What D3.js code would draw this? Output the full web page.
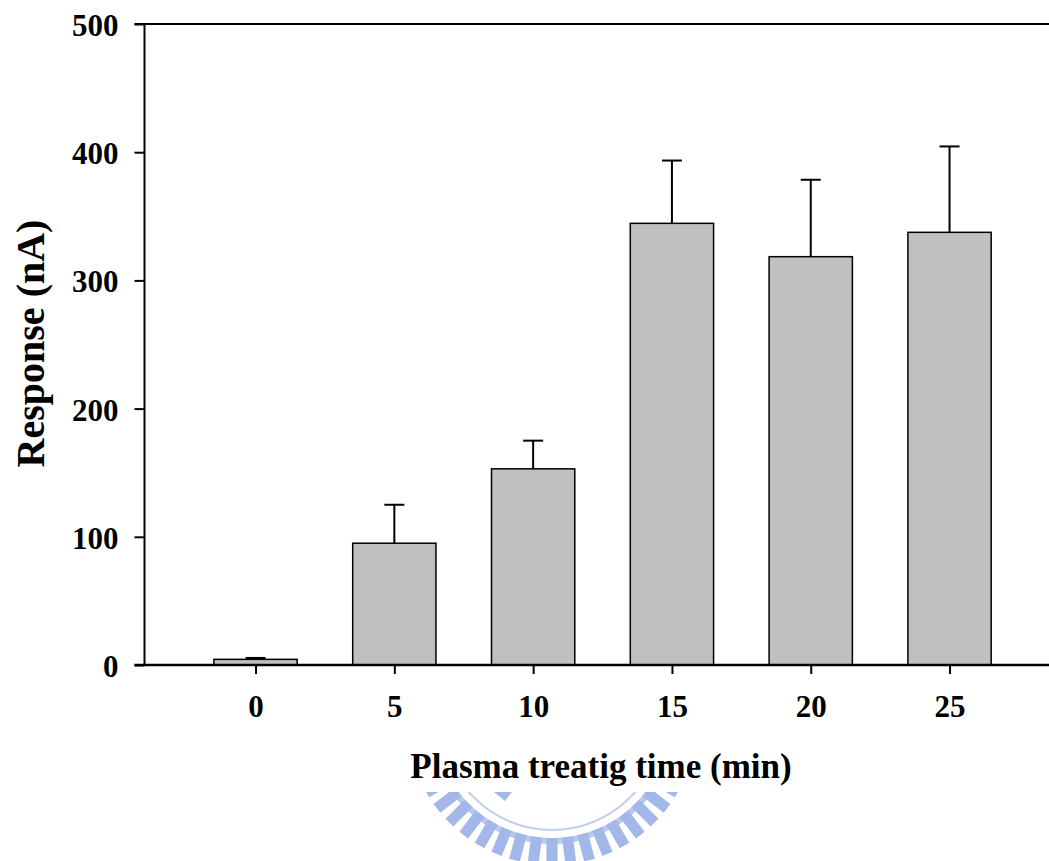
<!DOCTYPE html>
<html>
<head>
<meta charset="utf-8">
<script src="https://cdn.jsdelivr.net/npm/d3@7"></script>
<style>
  html, body { margin: 0; padding: 0; background: #fff; }
  svg { display: block; }
  text { font-family: "Liberation Serif", "Times New Roman", serif; font-weight: bold; fill: #000; }
</style>
</head>
<body>
<svg id="chart" width="1049" height="861"></svg>
<script>
// ---- data ----
const times = [0, 5, 10, 15, 20, 25];
const means = [4.4, 95, 153, 344.5, 318.5, 337.5];
const errors = [1.1, 30, 22, 49, 60, 67];
const yTicks = [0, 100, 200, 300, 400, 500];
const xLabel = "Plasma treatig time (min)";
const yLabel = "Response (nA)";

const svg = d3.select("#chart");
const W = 1049, H = 861;

// ---- watermark (decorative) ----
svg.append("clipPath").attr("id", "wmclip")
  .append("rect").attr("x", 0).attr("y", 792).attr("width", W).attr("height", H - 792);
const wmG = svg.append("g").attr("clip-path", "url(#wmclip)").attr("opacity", 0.8);
const cx = 552, cy = 720;
const wmColor = "#8ea6e4";
wmG.append("circle").attr("cx", cx).attr("cy", cy).attr("r", 110)
  .attr("fill", "none").attr("stroke", "#b4c3ec").attr("stroke-width", 2);
wmG.append("circle").attr("cx", cx).attr("cy", cy).attr("r", 121)
  .attr("fill", "none").attr("stroke", "#aabbea").attr("stroke-width", 6);
const teeth = d3.range(-180, 181, 7.5);
wmG.selectAll("rect.tooth").data(teeth).join("rect")
  .attr("class", "tooth")
  .attr("x", -5.5).attr("y", 118).attr("width", 11).attr("height", 27)
  .attr("fill", wmColor)
  .attr("transform", d => `translate(${cx},${cy}) rotate(${d})`);
wmG.append("path")
  .attr("d", `M${cx - 58},792 L${cx - 40},792 L${cx - 47},801 Z`)
  .attr("fill", wmColor);

// ---- scales ----
const x = d3.scaleLinear().domain([-4, 28.6]).range([144.5, 144.5 + 32.6 * 27.76]);
const y = d3.scaleLinear().domain([0, 500]).range([665, 24]);
const barW = x(3) - x(0);

const g = svg.append("g");

// bars
g.selectAll("rect.bar").data(times).join("rect")
  .attr("class", "bar")
  .attr("x", (d) => x(d) - barW / 2)
  .attr("y", (d, i) => y(means[i]))
  .attr("width", barW)
  .attr("height", (d, i) => y(0) - y(means[i]))
  .attr("fill", "#c0c0c0")
  .attr("stroke", "#000")
  .attr("stroke-width", 1.5);

// error bars (upper only)
g.selectAll("line.err").data(times).join("line")
  .attr("class", "err")
  .attr("x1", d => x(d)).attr("x2", d => x(d))
  .attr("y1", (d, i) => y(means[i]))
  .attr("y2", (d, i) => y(means[i] + errors[i]))
  .attr("stroke", "#000").attr("stroke-width", 2);
g.selectAll("line.cap").data(times).join("line")
  .attr("class", "cap")
  .attr("x1", d => x(d) - 10).attr("x2", d => x(d) + 10)
  .attr("y1", (d, i) => y(means[i] + errors[i]))
  .attr("y2", (d, i) => y(means[i] + errors[i]))
  .attr("stroke", "#000").attr("stroke-width", 2);

// y axis
const yAxis = g.append("g").attr("transform", `translate(${x(-4)},0)`)
  .call(d3.axisLeft(y).tickValues(yTicks).tickSize(10).tickPadding(16).tickFormat(d3.format("d")));
yAxis.select(".domain").remove();
yAxis.selectAll(".tick line").attr("stroke", "#000").attr("stroke-width", 2);
yAxis.selectAll(".tick text").attr("font-size", 31).attr("dy", "0.37em")
  .style("font-family", '"Liberation Serif", "Times New Roman", serif').style("font-weight", "bold");

// x axis
const xAxis = g.append("g").attr("transform", `translate(0,${y(0)})`)
  .call(d3.axisBottom(x).tickValues(times).tickSize(9).tickFormat(d3.format("d")));
xAxis.select(".domain").remove();
xAxis.selectAll(".tick line").attr("stroke", "#000").attr("stroke-width", 2);
xAxis.selectAll(".tick text").attr("font-size", 31).attr("y", 52).attr("dy", 0)
  .style("font-family", '"Liberation Serif", "Times New Roman", serif').style("font-weight", "bold");

// axis lines
g.append("line").attr("x1", x(-4)).attr("x2", x(-4)).attr("y1", y(500)).attr("y2", y(0))
  .attr("stroke", "#000").attr("stroke-width", 2);
g.append("line").attr("x1", x(-4) - 10).attr("x2", W).attr("y1", y(0)).attr("y2", y(0))
  .attr("stroke", "#000").attr("stroke-width", 2.5);
g.append("line").attr("x1", x(-4) - 10).attr("x2", W).attr("y1", y(500)).attr("y2", y(500))
  .attr("stroke", "#000").attr("stroke-width", 2);

// titles
svg.append("text").attr("x", 601).attr("y", 778).attr("text-anchor", "middle")
  .attr("font-size", 35).text(xLabel);
svg.append("text").attr("transform", "translate(43.5,343.5) rotate(-90)")
  .attr("text-anchor", "middle").attr("font-size", 40).text(yLabel);
</script>
</body>
</html>
